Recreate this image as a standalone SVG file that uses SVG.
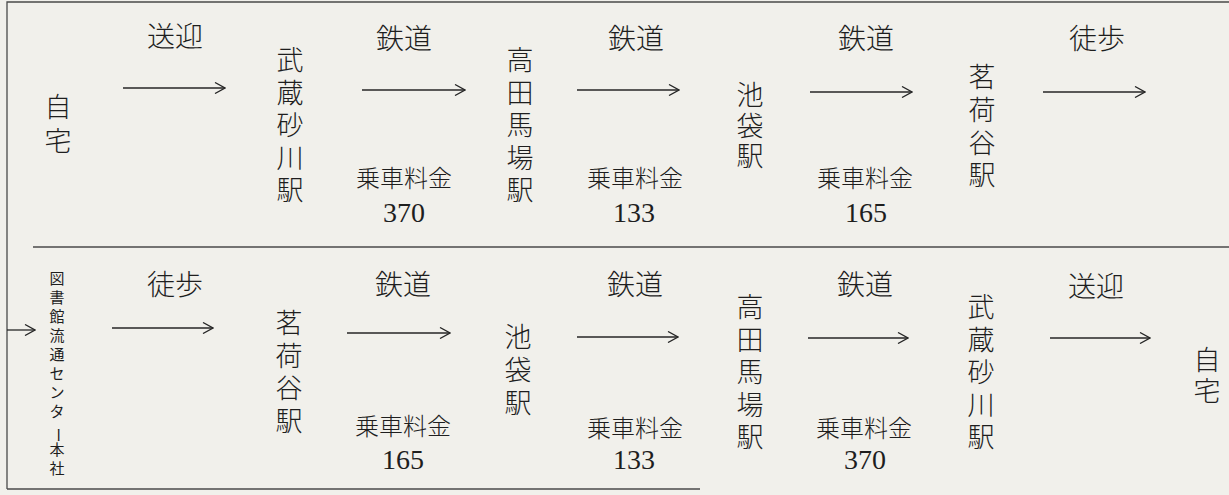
<svg xmlns="http://www.w3.org/2000/svg" width="1229" height="495" viewBox="0 0 1229 495">
<style>
.bg{fill:#f1f0eb}
.frame{stroke:#4a4a4a;stroke-width:1.3;fill:none}
.st{font-family:"Noto Sans CJK JP","Noto Sans CJK SC",sans-serif;font-weight:300;font-size:27px;fill:#1e1e1e;text-anchor:middle}
.lb{font-family:"Noto Sans CJK JP","Noto Sans CJK SC",sans-serif;font-weight:300;font-size:28px;fill:#1e1e1e;text-anchor:middle}
.fee{font-family:"Noto Sans CJK JP","Noto Sans CJK SC",sans-serif;font-weight:300;font-size:24px;fill:#1e1e1e;text-anchor:middle}
.num{font-family:"Liberation Serif",serif;font-size:28px;fill:#1e1e1e;text-anchor:middle}
.sm{font-family:"Noto Sans CJK JP","Noto Sans CJK SC",sans-serif;font-weight:400;font-size:15px;fill:#1e1e1e;text-anchor:middle}
.ar{stroke:#262626;stroke-width:1.3;fill:none;marker-end:url(#ah)}
</style>
<defs>
<marker id="ah" viewBox="0 0 12 12" refX="11" refY="6" markerWidth="12" markerHeight="12" markerUnits="userSpaceOnUse" orient="auto">
<path d="M1,0.5 L11,6 L1,11.5" fill="none" stroke="#262626" stroke-width="1.3"/>
</marker>
</defs>
<rect class="bg" x="0" y="0" width="1229" height="495"/>
<g id="frame">
<path class="frame" d="M7,489 V2 H1229"/>
<path class="frame" d="M33,247 H1229"/>
<path class="frame" d="M7,489 H700" stroke="#777"/>
</g>

<!-- top row -->
<g id="t-home"><text class="st" font-size="26"><tspan x="58" y="117">自</tspan><tspan x="58" y="151">宅</tspan></text></g>
<g id="t-musashisunagawa"><text class="st"><tspan x="290" y="70">武</tspan><tspan x="290" y="102.5">蔵</tspan><tspan x="290" y="135">砂</tspan><tspan x="290" y="167.5">川</tspan><tspan x="290" y="200">駅</tspan></text></g>
<g id="t-takadanobaba"><text class="st"><tspan x="520" y="70">高</tspan><tspan x="520" y="102.5">田</tspan><tspan x="520" y="135">馬</tspan><tspan x="520" y="167.5">場</tspan><tspan x="520" y="200">駅</tspan></text></g>
<g id="t-ikebukuro"><text class="st"><tspan x="750" y="105">池</tspan><tspan x="750" y="136">袋</tspan><tspan x="750" y="166">駅</tspan></text></g>
<g id="t-myogadani"><text class="st"><tspan x="982" y="87">茗</tspan><tspan x="982" y="120">荷</tspan><tspan x="982" y="153">谷</tspan><tspan x="982" y="185">駅</tspan></text></g>

<!-- bottom row -->
<g id="b-center">
<text class="sm"><tspan x="57" y="284">図</tspan><tspan x="57" y="303">書</tspan><tspan x="57" y="322">館</tspan><tspan x="57" y="341">流</tspan><tspan x="57" y="360">通</tspan><tspan x="57" y="379">セ</tspan><tspan x="57" y="398">ン</tspan><tspan x="57" y="417">タ</tspan><tspan x="57" y="455">本</tspan><tspan x="57" y="474">社</tspan></text>
<text class="sm" x="57" y="441" transform="translate(2,0) rotate(90 57 435)">ー</text>
</g>
<g id="b-myogadani"><text class="st"><tspan x="289" y="333">茗</tspan><tspan x="289" y="365.5">荷</tspan><tspan x="289" y="398">谷</tspan><tspan x="289" y="430.5">駅</tspan></text></g>
<g id="b-ikebukuro"><text class="st"><tspan x="518" y="347">池</tspan><tspan x="518" y="380">袋</tspan><tspan x="518" y="413">駅</tspan></text></g>
<g id="b-takadanobaba"><text class="st"><tspan x="750" y="317">高</tspan><tspan x="750" y="349.5">田</tspan><tspan x="750" y="382">馬</tspan><tspan x="750" y="414.5">場</tspan><tspan x="750" y="447">駅</tspan></text></g>
<g id="b-musashisunagawa"><text class="st"><tspan x="981" y="317">武</tspan><tspan x="981" y="349.5">蔵</tspan><tspan x="981" y="382">砂</tspan><tspan x="981" y="414.5">川</tspan><tspan x="981" y="447">駅</tspan></text></g>
<g id="b-home"><text class="st" font-size="26"><tspan x="1207" y="370">自</tspan><tspan x="1207" y="401">宅</tspan></text></g>

<g id="connectors">
<line class="ar" x1="123" y1="88" x2="225" y2="88"/>
<line class="ar" x1="362" y1="90" x2="465" y2="90"/>
<line class="ar" x1="577" y1="90" x2="679" y2="90"/>
<line class="ar" x1="810" y1="92" x2="912" y2="92"/>
<line class="ar" x1="1043" y1="92" x2="1145" y2="92"/>
<line class="ar" x1="7" y1="330" x2="35" y2="330"/>
<line class="ar" x1="112" y1="328" x2="213" y2="328"/>
<line class="ar" x1="347" y1="333" x2="450" y2="333"/>
<line class="ar" x1="577" y1="337" x2="678" y2="337"/>
<line class="ar" x1="808" y1="338" x2="908" y2="338"/>
<line class="ar" x1="1050" y1="338" x2="1150" y2="338"/>
</g>

<g id="labels">
<text class="lb" x="175" y="47">送迎</text>
<text class="lb" x="404" y="49">鉄道</text>
<text class="lb" x="636" y="49">鉄道</text>
<text class="lb" x="866" y="49">鉄道</text>
<text class="lb" x="1097" y="49">徒歩</text>
<text class="fee" x="404" y="187">乗車料金</text>
<text class="fee" x="635" y="187">乗車料金</text>
<text class="fee" x="865" y="187">乗車料金</text>
<text class="num" x="404" y="222">370</text>
<text class="num" x="634" y="222">133</text>
<text class="num" x="866" y="222">165</text>

<text class="lb" x="175" y="295">徒歩</text>
<text class="lb" x="403" y="295">鉄道</text>
<text class="lb" x="635" y="295">鉄道</text>
<text class="lb" x="865" y="295">鉄道</text>
<text class="lb" x="1096" y="297">送迎</text>
<text class="fee" x="403" y="435">乗車料金</text>
<text class="fee" x="635" y="437">乗車料金</text>
<text class="fee" x="864" y="437">乗車料金</text>
<text class="num" x="403" y="469">165</text>
<text class="num" x="634" y="469">133</text>
<text class="num" x="865" y="469">370</text>
</g>
</svg>
